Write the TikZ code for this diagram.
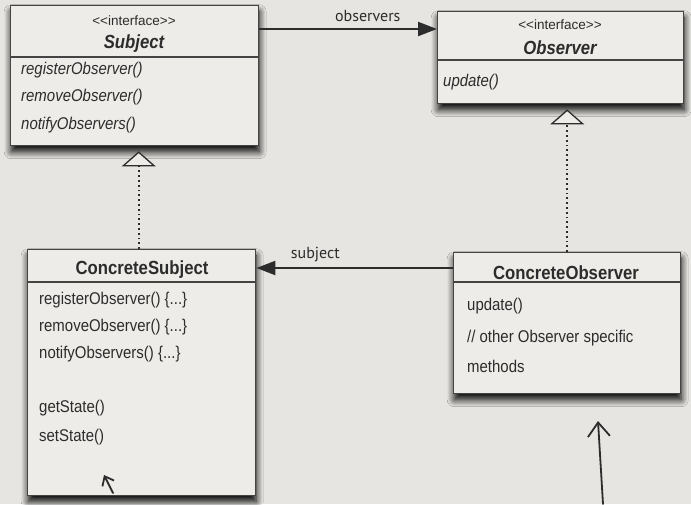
\documentclass[tikz,border=0pt]{standalone}
\usepackage{fontspec}
\setmainfont{Liberation Sans}
\newfontfamily\narrowsans{Liberation Sans}[FakeStretch=0.88]
\newfontfamily\labelsans{PT Sans}
\usetikzlibrary{arrows.meta,shadows.blur}
\definecolor{paper}{HTML}{E6E5E1}
\definecolor{boxfill}{HTML}{EDECE8}
\definecolor{boxline}{HTML}{444444}
\definecolor{ink}{HTML}{2C2C2C}
\tikzset{
  umlbox/.style={draw=boxline, line width=1.4pt, fill=boxfill, anchor=north west, inner sep=0pt,
    blur shadow={shadow xshift=0.5pt, shadow yshift=-6pt, shadow blur radius=7pt,
      shadow blur steps=10, shadow opacity=100}},
  divider/.style={draw=boxline, line width=1.2pt},
  meth/.style={anchor=west, inner sep=0pt, text=ink, font=\narrowsans\fontsize{17}{20}\selectfont,
    text height=12pt, text depth=4pt},
  title/.style={inner sep=0pt, text=ink, font=\narrowsans\bfseries\fontsize{19}{22}\selectfont},
  stereo/.style={inner sep=0pt, text=ink, font=\fontsize{13.5}{16}\selectfont},
  realize/.style={draw=ink, line width=1.8pt, dash pattern=on 1.8pt off 3pt, shorten >=5pt,
    -{Triangle[open, length=15pt, width=34pt, line width=1.3pt, fill=boxfill]}},
  assoc/.style={draw=ink, line width=2.2pt, -{Triangle[length=19pt, width=14pt]}},
  assoclabel/.style={inner sep=0pt, text=ink, font=\labelsans\fontsize{16}{19}\selectfont},
  pen/.style={draw=ink, line width=1.8pt, line cap=round, line join=round}
}
\begin{document}
\begin{tikzpicture}[x=1pt,y=-1pt]
  \fill[paper] (0,0) rectangle (691,504);
  \useasboundingbox (0,0) rectangle (691,504);

  % the four classes
  \node[umlbox, minimum width=248pt, minimum height=140pt] (subject) at (10,5) {};
  \node[umlbox, minimum width=246pt, minimum height=92pt] (observer) at (437,11) {};
  \node[umlbox, minimum width=228pt, minimum height=246pt] (csub) at (27,249) {};
  \node[umlbox, minimum width=227pt, minimum height=141pt] (cobs) at (453,252) {};

  \draw[divider] ([yshift=-52pt]subject.north west) -- ([yshift=-52pt]subject.north east);
  \draw[divider] ([yshift=-49pt]observer.north west) -- ([yshift=-49pt]observer.north east);
  \draw[divider] ([yshift=-33pt]csub.north west) -- ([yshift=-33pt]csub.north east);
  \draw[divider] ([yshift=-30pt]cobs.north west) -- ([yshift=-30pt]cobs.north east);

  % Subject
  \node[stereo] (subjstereo) at (134,21) {{<}{<}interface{>}{>}};
  \node[title] (subjname) at (134,44) {\itshape Subject};
  \node[meth] (subjreg) at (21,70) {\itshape registerObserver()};
  \node[meth] (subjrem) at (21,97) {\itshape removeObserver()};
  \node[meth] (subjnot) at (21,125) {\itshape notifyObservers()};

  % Observer
  \node[stereo] (obsstereo) at (560,25) {{<}{<}interface{>}{>}};
  \node[title] (obsname) at (560,48) {\itshape Observer};
  \node[meth] (obsupd) at (443,82) {\itshape update()};

  % ConcreteSubject
  \node[title] (csubname) at (142,270) {ConcreteSubject};
  \node[meth] (csubreg) at (39,300) {registerObserver() \{...\}};
  \node[meth] (csubrem) at (39,327) {removeObserver() \{...\}};
  \node[meth] (csubnot) at (39,354) {notifyObservers() \{...\}};
  \node[meth] (csubget) at (39,408) {getState()};
  \node[meth] (csubset) at (39,437) {setState()};

  % ConcreteObserver
  \node[title] (cobsname) at (566,273) {ConcreteObserver};
  \node[meth] (cobsupd) at (467,306) {update()};
  \node[meth] (cobsother) at (467,338) {// other Observer specific};
  \node[meth] (cobsmeth) at (467,368) {methods};

  % relations
  \draw[realize] ([xshift=4pt]subject.south |- csub.north) -- ([xshift=4pt]subject.south);
  \draw[realize] (cobs.north) -- (cobs.north |- observer.south);
  \draw[assoc] ([yshift=-24pt]subject.north east) -- ([yshift=-18pt]observer.north west)
    node[assoclabel, pos=0.61, above=6pt] {observers};
  \draw[assoc] ([yshift=-16pt]cobs.north west) -- ([yshift=-19pt]csub.north east)
    node[assoclabel, pos=0.70, above=5pt] {subject};

  % pen marks
  \coordinate (penA) at (113,493);
  \coordinate (penAtip) at (104,475);
  \coordinate (penB) at (603,504);
  \coordinate (penBtip) at (598,421);
  \draw[pen, -{Straight Barb[length=8pt, width=13pt]}] (penA) -- (penAtip);
  \draw[pen, -{Straight Barb[length=14pt, width=22pt]}] (penB) -- (penBtip);
\end{tikzpicture}
\end{document}
